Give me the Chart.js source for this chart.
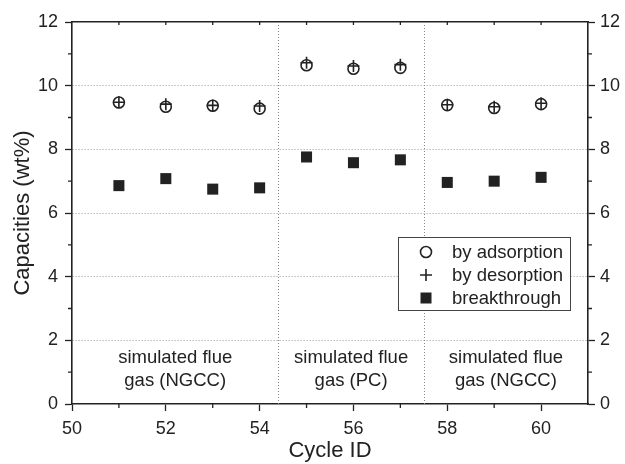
<!DOCTYPE html>
<html>
<head>
<meta charset="utf-8">
<script src="https://cdn.jsdelivr.net/npm/chart.js@4"></script>
<style>
  html, body { margin: 0; padding: 0; background: #fff; }
  #wrap { width: 625px; height: 464px; }
</style>
</head>
<body>
<div id="wrap"><canvas id="chart" width="625" height="464"></canvas></div>
<script>
// data
const cycles = [51, 52, 53, 54, 55, 56, 57, 58, 59, 60];
const adsorption = [9.47, 9.34, 9.37, 9.28, 10.64, 10.53, 10.56, 9.39, 9.30, 9.42];
const desorption = [9.48, 9.42, 9.38, 9.36, 10.72, 10.62, 10.66, 9.40, 9.34, 9.45];
const breakthrough = [6.86, 7.08, 6.75, 6.79, 7.76, 7.58, 7.67, 6.96, 7.00, 7.12];
const seriesNames = ['by adsorption', 'by desorption', 'breakthrough'];
const separators = [54.4, 57.5];
const regionLabels = [
  { x: 52.2, lines: ['simulated flue', 'gas (NGCC)'] },
  { x: 55.95, lines: ['simulated flue', 'gas (PC)'] },
  { x: 59.25, lines: ['simulated flue', 'gas (NGCC)'] }
];

const FONT = '"Liberation Sans", Arial, Helvetica, sans-serif';
const INK = '#222';

function pts(ys) {
  return cycles.map((c, i) => ({ x: c, y: ys[i] }));
}

// extra drawing: minor ticks, separators, region labels, legend box
const decorations = {
  id: 'decorations',
  beforeDatasetsDraw(chart) {
    const { ctx, chartArea: a, scales: { x, y } } = chart;
    ctx.save();
    // dotted separators between gas regions
    ctx.strokeStyle = '#888';
    ctx.lineWidth = 1;
    ctx.setLineDash([1, 2]);
    separators.forEach(v => {
      const px = Math.round(x.getPixelForValue(v)) + 0.5;
      ctx.beginPath();
      ctx.moveTo(px, a.top);
      ctx.lineTo(px, a.bottom);
      ctx.stroke();
    });
    ctx.setLineDash([]);

    // minor / inner ticks
    ctx.strokeStyle = INK;
    ctx.lineWidth = 1.3;
    ctx.beginPath();
    for (let v = 1; v < 12; v += 2) {
      const py = y.getPixelForValue(v);
      ctx.moveTo(a.left - 4, py); ctx.lineTo(a.left, py);
      ctx.moveTo(a.right, py); ctx.lineTo(a.right + 4, py);
    }
    for (let v = 51; v < 61; v += 2) {
      const px = x.getPixelForValue(v);
      ctx.moveTo(px, a.bottom); ctx.lineTo(px, a.bottom + 4);
    }
    for (let v = 51; v <= 60; v++) {
      const px = x.getPixelForValue(v);
      ctx.moveTo(px, a.top); ctx.lineTo(px, a.top + 3);
    }
    ctx.stroke();

    // region labels
    ctx.fillStyle = INK;
    ctx.font = '18.5px ' + FONT;
    ctx.textAlign = 'center';
    ctx.textBaseline = 'middle';
    regionLabels.forEach(r => {
      const px = x.getPixelForValue(r.x);
      ctx.fillText(r.lines[0], px, y.getPixelForValue(1.45));
      ctx.fillText(r.lines[1], px, y.getPixelForValue(0.72));
    });
    ctx.restore();
  },
  afterDatasetsDraw(chart) {
    const { ctx } = chart;
    const bx = 398, by = 237, bw = 172, bh = 73;
    ctx.save();
    ctx.fillStyle = '#fff';
    ctx.fillRect(bx, by, bw, bh);
    ctx.strokeStyle = '#444';
    ctx.lineWidth = 1;
    ctx.strokeRect(bx + 0.5, by + 0.5, bw, bh);

    const sx = 426;
    const rows = [252, 275, 298];
    ctx.strokeStyle = INK;
    ctx.fillStyle = INK;
    ctx.lineWidth = 1.6;
    // circle
    ctx.beginPath();
    ctx.arc(sx, rows[0], 5.5, 0, Math.PI * 2);
    ctx.stroke();
    // plus
    ctx.beginPath();
    ctx.moveTo(sx - 6, rows[1]); ctx.lineTo(sx + 6, rows[1]);
    ctx.moveTo(sx, rows[1] - 6); ctx.lineTo(sx, rows[1] + 6);
    ctx.stroke();
    // square
    ctx.fillRect(sx - 5.5, rows[2] - 5.5, 11, 11);

    ctx.font = '18.5px ' + FONT;
    ctx.textAlign = 'left';
    ctx.textBaseline = 'middle';
    seriesNames.forEach((n, i) => ctx.fillText(n, 452, rows[i] + 1));
    ctx.restore();
  }
};

const tickFont = { family: FONT, size: 18 };

new Chart(document.getElementById('chart'), {
  type: 'scatter',
  data: {
    datasets: [
      {
        label: seriesNames[0],
        data: pts(adsorption),
        pointStyle: 'circle',
        pointRadius: 5.5,
        pointBorderWidth: 1.6,
        borderColor: INK,
        backgroundColor: 'rgba(0,0,0,0)'
      },
      {
        label: seriesNames[1],
        data: pts(desorption),
        pointStyle: 'cross',
        pointRadius: 6,
        pointBorderWidth: 1.6,
        borderColor: INK,
        backgroundColor: INK
      },
      {
        label: seriesNames[2],
        data: pts(breakthrough),
        pointStyle: 'rect',
        pointRadius: 7.8,
        pointBorderWidth: 0,
        borderColor: INK,
        backgroundColor: INK
      }
    ]
  },
  options: {
    responsive: false,
    animation: false,
    layout: { padding: 0 },
    plugins: {
      legend: { display: false },
      tooltip: { enabled: false }
    },
    scales: {
      x: {
        type: 'linear',
        position: 'bottom',
        min: 50,
        max: 61,
        afterFit(s) { s.height = 60; },
        ticks: { stepSize: 2, includeBounds: false, color: INK, font: tickFont, padding: 7, maxRotation: 0 },
        grid: { drawOnChartArea: false, tickLength: 7, tickColor: INK, tickWidth: 1.3 },
        border: { color: INK, width: 1.6 },
        title: { display: true, text: 'Cycle ID', color: INK, font: { family: FONT, size: 22 }, padding: { top: 0, bottom: 0 } }
      },
      x2: {
        type: 'linear',
        position: 'top',
        min: 50,
        max: 61,
        afterFit(s) { s.height = 22; },
        ticks: { display: false },
        grid: { drawOnChartArea: false, drawTicks: false },
        border: { color: INK, width: 1.6 }
      },
      y: {
        position: 'left',
        min: 0,
        max: 12,
        afterFit(s) { s.width = 72; },
        ticks: { stepSize: 2, color: INK, font: tickFont, padding: 7 },
        grid: {
          color: ctx => (ctx.tick && (ctx.tick.value === 0 || ctx.tick.value === 12)) ? 'rgba(0,0,0,0)' : '#999',
          lineWidth: 1,
          tickLength: 7,
          tickColor: INK,
          tickWidth: 1.3
        },
        border: { color: INK, width: 1.6, dash: [1, 2] },
        title: { display: true, text: 'Capacities (wt%)', color: INK, font: { family: FONT, size: 22 }, padding: { top: 10, bottom: 0 } }
      },
      y2: {
        position: 'right',
        min: 0,
        max: 12,
        afterFit(s) { s.width = 37; },
        ticks: { stepSize: 2, color: INK, font: tickFont, padding: 5 },
        grid: { drawOnChartArea: false, tickLength: 7, tickColor: INK, tickWidth: 1.3 },
        border: { color: INK, width: 1.6 }
      }
    }
  },
  plugins: [decorations]
});
</script>
</body>
</html>
